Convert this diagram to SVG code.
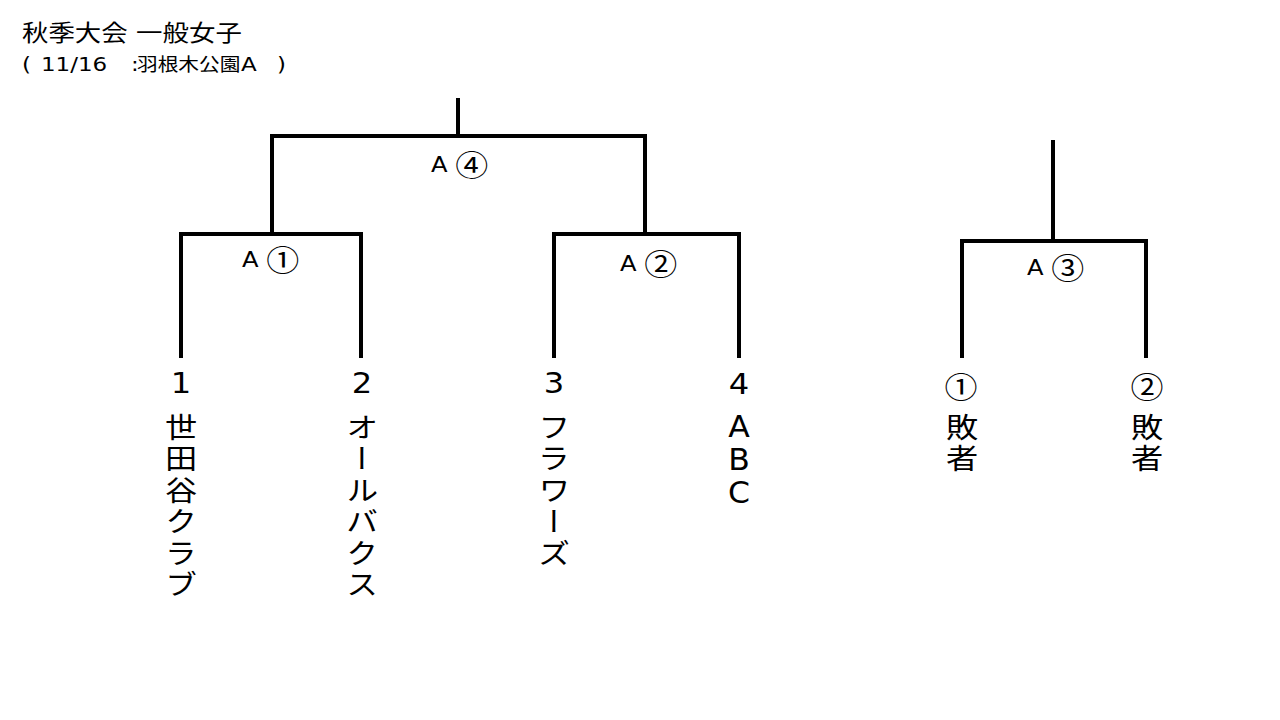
<svg xmlns="http://www.w3.org/2000/svg" width="1280" height="720" viewBox="0 0 1280 720">
<style>
.ln{fill:none;stroke:#000;stroke-width:4;stroke-linecap:square;stroke-linejoin:miter}
text{font-family:"DejaVu Sans","Noto Sans CJK JP",sans-serif;fill:#000}
.t1{font-size:23px}
.t2{font-size:20px}
.t2j{font-family:"Noto Sans CJK JP",sans-serif;font-size:18px}
.lab{font-size:22px}
.c{font-family:"Noto Sans CJK JP",sans-serif;font-size:30px}
.num{font-size:28px;text-anchor:middle}
.cn{font-family:"Noto Sans CJK JP",sans-serif;font-size:30px;text-anchor:middle}
.v{font-family:"Noto Sans CJK JP","DejaVu Sans",sans-serif;font-size:28px;writing-mode:vertical-rl;text-orientation:upright;letter-spacing:3.5px}
.vl{font-family:"DejaVu Sans",sans-serif;font-size:30px;writing-mode:vertical-rl;text-orientation:upright;letter-spacing:-2.5px}
</style>
<rect width="1280" height="720" fill="#fff"/>
<g id="title">
<text class="t1" transform="translate(22,41) scale(1.15,1)">秋季大会 一般女子</text>
<text class="t2" transform="translate(22,71) scale(1.15,1)">(<tspan x="16.5">11/16</tspan><tspan x="94.8">:</tspan><tspan class="t2j" x="100">羽根木公園</tspan><tspan x="190.4">A</tspan><tspan x="221.7">)</tspan></text>
</g>
<g id="connectors">
<path class="ln" d="M458,100 V136 M272,234 V136 H645 V234"/>
<path class="ln" d="M181,356 V234 H361 V356"/>
<path class="ln" d="M554,356 V234 H739 V356"/>
<path class="ln" d="M1053,142 V241 M962,356 V241 H1146 V356"/>
</g>
<g id="match-A4"><text class="lab" transform="translate(431,172) scale(1.1,1)">A <tspan class="c" dy="4">④</tspan></text></g>
<g id="match-A1"><text class="lab" transform="translate(242,267) scale(1.1,1)">A <tspan class="c" dy="4">①</tspan></text></g>
<g id="match-A2"><text class="lab" transform="translate(620,271) scale(1.1,1)">A <tspan class="c" dy="4">②</tspan></text></g>
<g id="match-A3"><text class="lab" transform="translate(1027,275) scale(1.1,1)">A <tspan class="c" dy="4">③</tspan></text></g>
<g id="team1">
<text class="num" transform="translate(181,393) scale(1.15,1)">1</text>
<text class="v" transform="translate(181,413) scale(1.15,1)">世田谷クラブ</text>
</g>
<g id="team2">
<text class="num" transform="translate(362,393) scale(1.15,1)">2</text>
<text class="v" transform="translate(362,413) scale(1.15,1)">オールバクス</text>
</g>
<g id="team3">
<text class="num" transform="translate(554,393) scale(1.15,1)">3</text>
<text class="v" transform="translate(554,413) scale(1.15,1)">フラワーズ</text>
</g>
<g id="team4">
<text class="num" transform="translate(739,394) scale(1.15,1)">4</text>
<text class="vl" transform="translate(739,409) scale(1.05,1)">ABC</text>
</g>
<g id="loser1">
<text class="cn" transform="translate(961,398) scale(1.1,1)">①</text>
<text class="v" transform="translate(962,413) scale(1.15,1)">敗者</text>
</g>
<g id="loser2">
<text class="cn" transform="translate(1147,398) scale(1.1,1)">②</text>
<text class="v" transform="translate(1147,413) scale(1.15,1)">敗者</text>
</g>
</svg>
